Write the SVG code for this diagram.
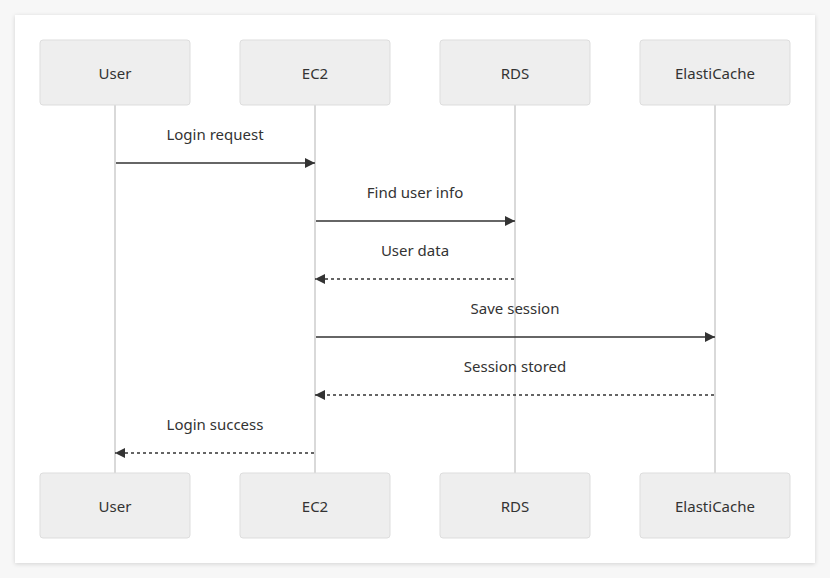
<svg xmlns="http://www.w3.org/2000/svg" width="830" height="578" viewBox="0 0 830 578">
<style>
text{font-family:"Noto Sans","Open Sans",sans-serif;font-size:15px;fill:#333;text-anchor:middle;dominant-baseline:central}
.box{fill:#eeeeee;stroke:#dddddd;stroke-width:1}
.life{stroke:#cccccc;stroke-width:1.5}
.msg{stroke:#333;stroke-width:1.5;fill:none}
.ret{stroke:#333;stroke-width:1.5;fill:none;stroke-dasharray:3 3}
</style>
<defs>
<filter id="sh" x="-5%" y="-5%" width="110%" height="110%"><feDropShadow dx="0" dy="1" stdDeviation="2" flood-color="#000" flood-opacity="0.15"/></filter>
<marker id="ah" markerWidth="10" markerHeight="10" refX="10" refY="5" orient="auto" markerUnits="userSpaceOnUse"><path d="M0,0 L10,5 L0,10 Z" fill="#333"/></marker>
</defs>
<rect width="830" height="578" fill="#f7f7f7"/>
<rect x="15" y="15" width="800" height="548" fill="#fff" filter="url(#sh)"/>
<g id="lifelines">
<line class="life" x1="115" y1="105" x2="115" y2="473"/>
<line class="life" x1="315" y1="105" x2="315" y2="473"/>
<line class="life" x1="515" y1="105" x2="515" y2="473"/>
<line class="life" x1="715" y1="105" x2="715" y2="473"/>
</g>
<g id="user-top"><rect class="box" x="40" y="40" width="150" height="65" rx="3"/><text x="115" y="73">User</text></g>
<g id="ec2-top"><rect class="box" x="240" y="40" width="150" height="65" rx="3"/><text x="315" y="73">EC2</text></g>
<g id="rds-top"><rect class="box" x="440" y="40" width="150" height="65" rx="3"/><text x="515" y="73">RDS</text></g>
<g id="cache-top"><rect class="box" x="640" y="40" width="150" height="65" rx="3"/><text x="715" y="73">ElastiCache</text></g>
<g id="user-bottom"><rect class="box" x="40" y="473" width="150" height="65" rx="3"/><text x="115" y="506">User</text></g>
<g id="ec2-bottom"><rect class="box" x="240" y="473" width="150" height="65" rx="3"/><text x="315" y="506">EC2</text></g>
<g id="rds-bottom"><rect class="box" x="440" y="473" width="150" height="65" rx="3"/><text x="515" y="506">RDS</text></g>
<g id="cache-bottom"><rect class="box" x="640" y="473" width="150" height="65" rx="3"/><text x="715" y="506">ElastiCache</text></g>
<g id="connectors">
<line class="msg" x1="116" y1="163" x2="315" y2="163" marker-end="url(#ah)"/>
<text x="215" y="133.5">Login request</text>
<line class="msg" x1="316" y1="221" x2="515" y2="221" marker-end="url(#ah)"/>
<text x="415" y="191.5">Find user info</text>
<line class="ret" x1="514" y1="279" x2="315" y2="279" marker-end="url(#ah)"/>
<text x="415" y="249.5">User data</text>
<line class="msg" x1="316" y1="337" x2="715" y2="337" marker-end="url(#ah)"/>
<text x="515" y="307.5">Save session</text>
<line class="ret" x1="714" y1="395" x2="315" y2="395" marker-end="url(#ah)"/>
<text x="515" y="365.5">Session stored</text>
<line class="ret" x1="314" y1="453" x2="115" y2="453" marker-end="url(#ah)"/>
<text x="215" y="423.5">Login success</text>
</g>
</svg>
